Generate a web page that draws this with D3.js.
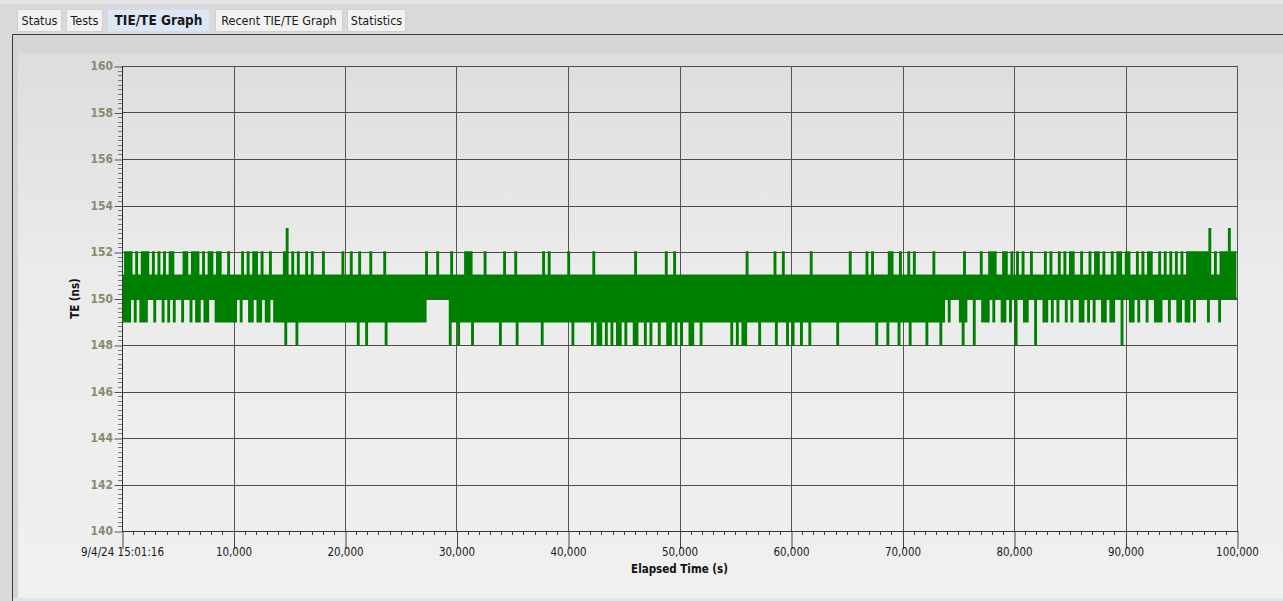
<!DOCTYPE html>
<html>
<head>
<meta charset="utf-8">
<script src="https://cdn.jsdelivr.net/npm/d3@7"></script>
<style>
  html, body { margin: 0; padding: 0; background: #d9d9d9; overflow: hidden; }
  svg { display: block; }
</style>
</head>
<body>
<svg id="view" width="1283" height="601"></svg>
<script>
// ---- data ----------------------------------------------------------------
const tabs = ["Status", "Tests", "TIE/TE Graph", "Recent TIE/TE Graph", "Statistics"];
const activeTab = "TIE/TE Graph";

const yTicks = [140, 142, 144, 146, 148, 150, 152, 154, 156, 158, 160];
const xTicks = [0, 10000, 20000, 30000, 40000, 50000, 60000, 70000, 80000, 90000, 100000];
const startLabel = "9/4/24 15:01:16";
const yTitle = "TE (ns)";
const xTitle = "Elapsed Time (s)";

// TE samples summarised per 250 s bucket: one row per 10,000 s,
// written as four groups of ten buckets.
// Upper extreme reached in the bucket: '.' = 151 ns, '2' = 152 ns, '3' = 153 ns
const bucketSeconds = 250;
const upperRows = [
  ".222.2.222 .2.2.2.22. ..22.222.2 .22.22..2.",
  "...2.2.22. 2..2....23 .2.2..2.2. ..2......2",
  "..2..2...2 ....2..... .........2 ...2....2.",
  "...222.... 2......2.. .2........ .2.2......",
  "2........2 .......... ....2..... .....2..2.",
  ".......... .......... ....2..... ....2..2..",
  ".......2.. .......... .2.....2.2 .....22..2",
  "..2.2..... .2........ ..2.....2. .222..22.2",
  ".2.2..2... .2.2..2.2. 22..2..2.2 2.2..2.22.",
  "22..2.2.22 ..2.2.2.2. 2.22222222 3.2.222322"
];
// Lower extreme reached in the bucket: '.' = 150 ns, '9' = 149 ns, '8' = 148 ns
const lowerRows = [
  "999.9.999. .9..9.9.9. .9..9.99.9 9..9999999",
  "9.9..99.99 .99.999989 9989999999 9999999999",
  "9999899899 9999899999 999999999. .......899",
  "8999989999 9999989999 9899999999 8999999999",
  "9899999989 8898989889 8998899898 9989988989",
  "8998899899 9999999989 8988999989 9999899989",
  "8998998999 9999998999 9999999999 8999899989",
  "9989999989 99989.9... 989..8..99 9.9..99.9.",
  "8..99..8.. 99.9.9..9. 9..99.9.9. .99.99..8.",
  ".99.9..9.. 999..9..99 .99.9....9 ...9......"
];
const upperValue = { ".": 151, "2": 152, "3": 153 };
const lowerValue = { ".": 150, "9": 149, "8": 148 };

// ---- layout ---------------------------------------------------------------
const W = 1283, H = 601;
const plot = { left: 122, right: 1237, top: 66, bottom: 531 };
const uiFont = "'DejaVu Sans Condensed','Liberation Sans',Arial,sans-serif";

const svg = d3.select("#view");
const defs = svg.append("defs");

const grad = defs.append("linearGradient")
  .attr("id", "chartBg").attr("x1", 0).attr("y1", 0).attr("x2", 0).attr("y2", 1);
grad.append("stop").attr("offset", "0%").attr("stop-color", "#dddddd");
grad.append("stop").attr("offset", "40%").attr("stop-color", "#ebebeb");
grad.append("stop").attr("offset", "100%").attr("stop-color", "#f0f0f0");

defs.append("clipPath").attr("id", "plotClip")
  .append("rect")
  .attr("x", plot.left).attr("y", plot.top - 8)
  .attr("width", plot.right - plot.left + 1)
  .attr("height", plot.bottom - plot.top + 8);

// window background
svg.append("rect").attr("width", W).attr("height", H).attr("fill", "#d9d9d9");
svg.append("rect").attr("width", W).attr("height", 4).attr("fill", "#e4e4e4");

// ---- tab strip ------------------------------------------------------------
const tabBoxes = [[17, 44], [66, 36], [107, 102], [215, 127], [347, 58]];
const tabG = svg.append("g");
tabs.forEach((name, i) => {
  const [tx, tw] = tabBoxes[i];
  const active = name === activeTab;
  tabG.append("rect")
    .attr("x", tx + 0.5).attr("y", 9.5).attr("width", tw).attr("height", 22)
    .attr("fill", active ? "#dce6f4" : "#f2f2f2")
    .attr("stroke", active ? "#d3dcea" : "#d0d0d0").attr("stroke-width", 1);
  tabG.append("text")
    .attr("x", tx + tw / 2 + 0.5).attr("y", 25)
    .attr("text-anchor", "middle")
    .attr("font-family", uiFont)
    .attr("font-size", active ? 13.5 : 12.5)
    .attr("font-weight", active ? "bold" : "normal")
    .attr("fill", "#1a1a1a")
    .text(name);
});

// ---- panel & chart background -------------------------------------------
svg.append("rect").attr("x", 12).attr("y", 34).attr("width", W - 12).attr("height", H - 34)
  .attr("fill", "#d5d5d5");
svg.append("rect").attr("x", 18).attr("y", 53).attr("width", W - 18).attr("height", 545)
  .attr("fill", "url(#chartBg)");
svg.append("rect").attr("x", 13).attr("y", 598).attr("width", W - 13).attr("height", 3)
  .attr("fill", "#e2e6ec");
svg.append("path").attr("d", `M12.5,${H} V34.5 H${W}`)
  .attr("fill", "none").attr("stroke", "#3c3c3c").attr("stroke-width", 1);

// ---- scales ---------------------------------------------------------------
const x = d3.scaleLinear().domain([0, 100000]).range([plot.left, plot.right]);
const y = d3.scaleLinear().domain([140, 160]).range([plot.bottom, plot.top]);
const crisp = v => Math.round(v) + 0.5;

// grid
const grid = svg.append("g");
grid.selectAll("line.h").data(yTicks.slice(1)).join("line")
  .attr("x1", plot.left).attr("x2", plot.right + 1)
  .attr("y1", d => crisp(y(d))).attr("y2", d => crisp(y(d)))
  .attr("stroke", "#4a4a4a").attr("stroke-width", 1);
grid.selectAll("line.v").data(xTicks.slice(1)).join("line")
  .attr("y1", plot.top).attr("y2", plot.bottom)
  .attr("x1", d => crisp(x(d))).attr("x2", d => crisp(x(d)))
  .attr("stroke", "#555555").attr("stroke-width", 1);

// minor ticks
const yMinor = d3.range(140, 160.001, 0.2).filter(v => Math.abs(v / 2 - Math.round(v / 2)) > 1e-6);
svg.append("g").selectAll("line").data(yMinor).join("line")
  .attr("x1", plot.left - 4).attr("x2", plot.left)
  .attr("y1", d => crisp(y(d))).attr("y2", d => crisp(y(d)))
  .attr("stroke", "#7a7a7a").attr("stroke-width", 1);
const xMinor = d3.range(1000, 100000, 1000).filter(v => v % 10000 !== 0);
svg.append("g").selectAll("line").data(xMinor).join("line")
  .attr("y1", plot.bottom).attr("y2", plot.bottom + 4)
  .attr("x1", d => crisp(x(d))).attr("x2", d => crisp(x(d)))
  .attr("stroke", "#444444").attr("stroke-width", 1);

// ---- TE series --------------------------------------------------------------
const upper = upperRows.join("").replace(/ /g, "");
const lower = lowerRows.join("").replace(/ /g, "");
const samples = [];
for (let i = 0; i < upper.length; i++) {
  const t0 = i * bucketSeconds;
  samples.push({ t: t0, v: upperValue[upper[i]] });
  samples.push({ t: t0 + bucketSeconds / 2, v: lowerValue[lower[i]] });
}
samples.push({ t: 100000, v: samples[samples.length - 1].v });

const line = d3.line()
  .x(d => x(d.t))
  .y(d => y(d.v))
  .curve(d3.curveStepAfter);

svg.append("path")
  .datum(samples)
  .attr("clip-path", "url(#plotClip)")
  .attr("d", line)
  .attr("fill", "none")
  .attr("stroke", "#008000")
  .attr("stroke-width", 1.5);

// ---- axes -----------------------------------------------------------------
const yAxis = d3.axisLeft(y).tickValues(yTicks).tickSize(8).tickPadding(1);
const yg = svg.append("g").attr("transform", `translate(${plot.left},0)`).call(yAxis);
yg.select(".domain").remove();
yg.selectAll(".tick line").attr("stroke", "#555").attr("transform", "translate(0.5,0.5)");
yg.selectAll(".tick text")
  .attr("font-family", uiFont).attr("font-size", 12).attr("font-weight", "bold")
  .attr("fill", "#8a8a6e");

const xAxis = d3.axisBottom(x).tickValues(xTicks).tickSize(18).tickPadding(-1)
  .tickFormat(d => d === 0 ? startLabel : d3.format(",")(d));
const xg = svg.append("g").attr("transform", `translate(0,${plot.bottom})`).call(xAxis);
xg.select(".domain").remove();
xg.selectAll(".tick line").attr("stroke", "#444").attr("transform", "translate(0.5,0)");
xg.selectAll(".tick text")
  .attr("font-family", uiFont).attr("font-size", 11.5).attr("fill", "#1a1a1a");

// axis lines
svg.append("path")
  .attr("d", `M${crisp(plot.left)},${plot.top} V${crisp(plot.bottom)} H${plot.right + 1}`)
  .attr("fill", "none").attr("stroke", "#333").attr("stroke-width", 1);

// titles
svg.append("text")
  .attr("transform", `translate(79,${(plot.top + plot.bottom) / 2}) rotate(-90)`)
  .attr("text-anchor", "middle")
  .attr("font-family", uiFont).attr("font-size", 11.5).attr("font-weight", "bold")
  .attr("fill", "#111")
  .text(yTitle);
svg.append("text")
  .attr("x", (plot.left + plot.right) / 2).attr("y", 573)
  .attr("text-anchor", "middle")
  .attr("font-family", uiFont).attr("font-size", 11.5).attr("font-weight", "bold")
  .attr("fill", "#111")
  .text(xTitle);
</script>
</body>
</html>
